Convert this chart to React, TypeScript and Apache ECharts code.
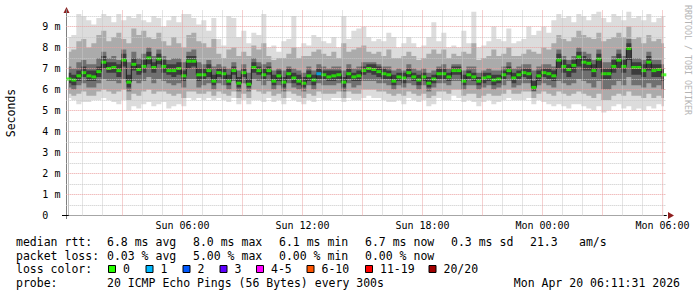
import React, { useEffect, useRef } from "react";
import * as echarts from "echarts";

// time axis in minutes after Sun 00:00 (graph ends Mon 06:11:31, 30 h span)
const X_MIN = 11.52;
const X_MAX = 1811.52;
const FIRST_SAMPLE_MIN = 19;
const STEP_MIN = 15;

const median = [
  6.5, 6.45, 6.65, 6.8, 6.65, 6.6, 6.85, 7.3, 7.0, 7.05, 6.9, 7.4, 6.35, 7.2, 6.95, 7.1, 7.5, 7.05, 7.45, 7.1, 6.9, 6.9, 7.0, 6.65, 7.35, 7.35, 6.7, 6.7, 6.9, 6.4,
  6.8, 6.75, 6.4, 6.9, 6.3, 6.8, 6.25, 7.05, 6.9, 6.7, 6.9, 6.4, 6.65, 6.35, 6.75, 6.55, 6.4, 6.3, 6.65, 6.45, 6.75, 6.7, 6.6, 6.65, 6.7, 6.35, 6.75, 6.6, 6.65, 6.9,
  7.0, 6.95, 6.85, 6.75, 6.7, 6.4, 6.6, 6.55, 6.8, 6.6, 6.45, 6.6, 6.3, 6.5, 6.75, 6.75, 6.6, 6.9, 6.9, 6.4, 6.7, 6.6, 6.4, 6.55, 6.6, 6.45, 6.5, 6.7, 6.9, 6.55,
  6.7, 6.8, 6.75, 6.1, 6.65, 6.8, 6.75, 6.65, 7.4, 7.1, 6.95, 7.15, 7.55, 7.3, 7.25, 6.9, 7.45, 6.75, 6.75, 7.1, 7.4, 7.1, 7.95, 7.05, 7.05, 6.9, 7.3, 6.9, 6.95, 6.7,
];

// pings lost (of 20) per sample
const loss = [
  0, 0, 0, 0, 0, 0, 0, 0, 0, 0, 0, 0, 0, 0, 0, 0, 0, 0, 0, 0, 0, 0, 0, 0, 0, 0, 0, 0, 0, 0,
  0, 0, 0, 0, 0, 0, 0, 0, 0, 0, 0, 0, 0, 0, 0, 0, 0, 0, 0, 0, 1, 0, 0, 0, 0, 0, 0, 0, 0, 0,
  0, 0, 0, 0, 0, 0, 0, 0, 0, 0, 0, 0, 0, 0, 0, 0, 0, 0, 0, 0, 0, 0, 0, 0, 0, 0, 0, 0, 0, 0,
  0, 0, 0, 0, 0, 0, 0, 0, 0, 0, 0, 0, 0, 0, 0, 0, 0, 0, 0, 0, 0, 0, 0, 0, 0, 0, 0, 0, 0, 0,
];

// smoke envelopes (ms), outermost to innermost
const smokeMax = [
  8.5, 8.6, 9.6, 9.5, 9.3, 9.1, 9.4, 9.6, 9.5, 9.2, 9.6, 9.3, 9.5, 9.4, 9.6, 9.3, 9.2, 9.5, 9.4, 9.0, 9.3, 9.5, 9.2, 9.6, 9.6, 9.4, 9.1, 9.3, 8.8, 9.4,
  8.4, 8.1, 9.5, 9.4, 8.5, 8.8, 8.2, 8.7, 8.6, 9.6, 8.0, 8.1, 7.8, 8.3, 8.4, 9.5, 8.0, 8.2, 8.1, 8.6, 8.5, 8.3, 8.2, 8.5, 8.0, 9.5, 8.4, 8.8, 8.9, 9.0,
  8.5, 8.3, 8.4, 8.3, 8.7, 8.5, 8.0, 8.2, 8.5, 8.2, 8.0, 8.1, 8.5, 9.2, 8.3, 8.7, 8.0, 8.1, 8.0, 8.8, 8.2, 9.7, 8.0, 8.1, 8.3, 9.0, 8.4, 8.3, 8.9, 8.2,
  8.3, 8.4, 9.0, 8.6, 8.8, 9.0, 8.7, 9.3, 9.6, 9.4, 9.5, 9.2, 9.6, 9.5, 9.3, 9.6, 9.7, 9.4, 9.2, 9.6, 9.5, 9.3, 9.7, 9.4, 9.5, 9.3, 9.6, 9.2, 9.4, 9.5,
];
const smokeHi2 = [
  7.8, 7.9, 8.3, 8.4, 8.0, 8.2, 8.6, 8.8, 8.3, 8.5, 8.7, 8.4, 8.2, 8.9, 8.6, 8.8, 8.5, 8.4, 8.7, 8.3, 8.1, 8.5, 8.2, 8.0, 8.6, 8.7, 8.3, 8.2, 8.0, 8.4,
  7.7, 7.5, 7.9, 8.0, 7.6, 7.8, 7.6, 8.1, 7.9, 8.2, 7.6, 7.4, 7.5, 7.5, 7.7, 8.0, 7.5, 7.6, 7.6, 7.8, 7.9, 7.7, 7.6, 7.8, 7.5, 8.2, 7.8, 7.9, 8.0, 8.1,
  7.8, 7.7, 7.8, 7.6, 7.9, 7.5, 7.5, 7.6, 7.8, 7.6, 7.4, 7.5, 7.7, 7.9, 7.7, 7.9, 7.5, 7.7, 7.6, 7.8, 7.7, 8.2, 7.4, 7.5, 7.6, 7.9, 7.6, 7.7, 8.0, 7.6,
  7.6, 7.7, 7.9, 7.8, 7.7, 8.0, 7.9, 8.2, 8.6, 8.4, 8.3, 8.5, 8.8, 8.6, 8.5, 8.4, 8.7, 8.3, 8.4, 8.5, 8.7, 8.5, 9.0, 8.4, 8.5, 8.2, 8.6, 8.3, 8.4, 8.2,
];
const smokeHi3 = [
  7.1, 7.0, 7.3, 7.4, 7.2, 7.2, 7.5, 7.8, 7.5, 7.6, 7.4, 7.9, 7.3, 7.8, 7.5, 7.7, 8.0, 7.6, 7.9, 7.6, 7.4, 7.5, 7.5, 7.3, 7.8, 7.9, 7.3, 7.2, 7.4, 7.1,
  7.2, 7.1, 7.0, 7.3, 6.9, 7.2, 6.8, 7.5, 7.3, 7.2, 7.3, 6.9, 7.0, 6.9, 7.1, 7.0, 6.9, 6.8, 7.1, 6.9, 7.2, 7.1, 7.0, 7.1, 7.1, 6.9, 7.2, 7.0, 7.1, 7.3,
  7.3, 7.3, 7.2, 7.1, 7.1, 6.9, 7.0, 6.9, 7.2, 7.0, 6.9, 7.0, 6.8, 6.9, 7.1, 7.2, 7.0, 7.2, 7.2, 6.9, 7.1, 7.1, 6.8, 6.9, 7.0, 6.9, 6.9, 7.1, 7.3, 7.0,
  7.1, 7.2, 7.2, 6.9, 7.1, 7.2, 7.2, 7.1, 7.9, 7.6, 7.4, 7.6, 8.0, 7.8, 7.7, 7.4, 7.9, 7.3, 7.3, 7.6, 7.9, 7.6, 8.4, 7.5, 7.5, 7.4, 7.8, 7.4, 7.4, 7.2,
];
const smokeCoreHi = [
  6.8, 6.7, 6.9, 7.1, 6.9, 6.9, 7.1, 7.6, 7.3, 7.3, 7.2, 7.7, 6.7, 7.5, 7.2, 7.4, 7.8, 7.3, 7.7, 7.4, 7.2, 7.2, 7.3, 6.9, 7.6, 7.6, 7.0, 7.0, 7.2, 6.7,
  7.0, 7.0, 6.7, 7.1, 6.6, 7.0, 6.5, 7.3, 7.1, 7.0, 7.1, 6.7, 6.9, 6.6, 7.0, 6.8, 6.7, 6.6, 6.9, 6.7, 7.0, 6.9, 6.9, 6.9, 6.9, 6.6, 7.0, 6.8, 6.9, 7.1,
  7.2, 7.2, 7.1, 7.0, 6.9, 6.7, 6.8, 6.8, 7.0, 6.8, 6.7, 6.8, 6.6, 6.7, 7.0, 7.0, 6.8, 7.1, 7.1, 6.7, 6.9, 6.8, 6.6, 6.8, 6.8, 6.7, 6.7, 6.9, 7.1, 6.8,
  6.9, 7.0, 7.0, 6.4, 6.9, 7.0, 7.0, 6.9, 7.7, 7.4, 7.2, 7.4, 7.8, 7.6, 7.5, 7.2, 7.7, 7.0, 7.0, 7.4, 7.7, 7.4, 8.2, 7.3, 7.3, 7.2, 7.6, 7.2, 7.2, 7.0,
];
const smokeCoreLo = [
  6.3, 6.2, 6.4, 6.6, 6.4, 6.4, 6.6, 7.0, 6.8, 6.8, 6.6, 7.1, 6.1, 6.9, 6.7, 6.8, 7.2, 6.8, 7.2, 6.8, 6.7, 6.6, 6.7, 6.4, 7.0, 7.1, 6.4, 6.5, 6.6, 6.2,
  6.6, 6.5, 6.2, 6.7, 6.1, 6.6, 6.1, 6.8, 6.7, 6.5, 6.7, 6.2, 6.4, 6.1, 6.5, 6.3, 6.2, 6.1, 6.4, 6.2, 6.5, 6.5, 6.4, 6.4, 6.5, 6.1, 6.5, 6.4, 6.4, 6.7,
  6.8, 6.7, 6.6, 6.5, 6.5, 6.2, 6.4, 6.3, 6.6, 6.4, 6.2, 6.4, 6.1, 6.3, 6.5, 6.5, 6.4, 6.7, 6.7, 6.2, 6.5, 6.4, 6.2, 6.3, 6.4, 6.2, 6.3, 6.5, 6.7, 6.3,
  6.5, 6.6, 6.5, 5.95, 6.4, 6.6, 6.5, 6.4, 7.0, 6.8, 6.6, 6.8, 7.1, 6.9, 6.9, 6.6, 7.0, 6.5, 6.5, 6.8, 7.0, 6.8, 7.4, 6.7, 6.7, 6.6, 6.9, 6.6, 6.6, 6.4,
];
const smokeLo3 = [
  6.1, 6.0, 6.2, 6.3, 6.1, 6.1, 6.3, 6.5, 6.4, 6.4, 6.3, 6.5, 5.9, 6.4, 6.3, 6.4, 6.6, 6.3, 6.5, 6.4, 6.3, 6.2, 6.3, 6.1, 6.5, 6.5, 6.1, 6.2, 6.3, 6.0,
  6.3, 6.2, 6.0, 6.4, 5.9, 6.3, 5.9, 6.5, 6.4, 6.2, 6.4, 6.0, 6.2, 5.9, 6.3, 6.1, 6.0, 5.9, 6.2, 6.0, 6.3, 6.2, 6.2, 6.2, 6.3, 5.9, 6.3, 6.1, 6.2, 6.4,
  6.4, 6.4, 6.3, 6.3, 6.2, 6.0, 6.2, 6.1, 6.3, 6.2, 6.0, 6.2, 5.9, 6.1, 6.3, 6.3, 6.2, 6.4, 6.4, 6.0, 6.2, 6.2, 6.0, 6.1, 6.2, 6.0, 6.1, 6.2, 6.4, 6.1,
  6.2, 6.3, 6.3, 5.9, 6.2, 6.3, 6.2, 6.1, 6.4, 6.3, 6.2, 6.3, 6.5, 6.4, 6.3, 6.1, 6.4, 6.0, 6.0, 6.2, 6.4, 6.2, 6.6, 6.2, 6.2, 6.1, 6.3, 6.1, 6.2, 6.0,
];
const smokeLo2 = [
  5.8, 5.7, 5.8, 5.9, 5.7, 5.7, 5.9, 6.0, 5.9, 5.8, 5.9, 6.0, 5.5, 5.8, 5.7, 5.9, 6.0, 5.8, 5.9, 5.9, 5.8, 5.7, 5.8, 5.6, 5.9, 5.9, 5.8, 5.8, 5.9, 5.7,
  5.9, 5.8, 5.7, 5.9, 5.6, 5.8, 5.6, 6.0, 5.9, 5.8, 5.9, 5.7, 5.8, 5.6, 5.9, 5.8, 5.7, 5.6, 5.8, 5.7, 5.9, 5.8, 5.8, 5.8, 5.9, 5.6, 5.9, 5.8, 5.8, 6.0,
  6.0, 6.0, 5.9, 5.9, 5.8, 5.7, 5.8, 5.7, 5.9, 5.8, 5.7, 5.8, 5.6, 5.7, 5.9, 5.9, 5.8, 6.0, 6.0, 5.7, 5.8, 5.8, 5.6, 5.7, 5.8, 5.7, 5.7, 5.8, 6.0, 5.8,
  5.8, 5.9, 5.9, 5.6, 5.8, 5.9, 5.8, 5.7, 5.9, 5.8, 5.7, 5.8, 5.9, 5.8, 5.7, 5.6, 5.8, 5.5, 5.5, 5.7, 5.8, 5.7, 5.9, 5.7, 5.7, 5.6, 5.8, 5.6, 5.7, 5.6,
];
const smokeMin = [
  5.6, 5.5, 5.3, 5.4, 5.4, 5.5, 5.5, 5.6, 5.5, 5.4, 5.3, 5.5, 5.0, 5.2, 5.1, 5.3, 5.4, 5.2, 5.3, 5.4, 5.1, 5.2, 5.3, 5.2, 5.6, 5.5, 5.6, 5.5, 5.6, 5.5,
  5.6, 5.5, 5.4, 5.6, 5.3, 5.5, 5.3, 5.5, 5.5, 5.4, 5.6, 5.4, 5.5, 5.3, 5.6, 5.5, 5.4, 5.3, 5.5, 5.4, 5.6, 5.5, 5.5, 5.6, 5.6, 5.4, 5.6, 5.5, 5.5, 5.6,
  5.7, 5.6, 5.6, 5.5, 5.4, 5.4, 5.5, 5.3, 5.6, 5.5, 5.4, 5.5, 5.2, 5.3, 5.6, 5.5, 5.5, 5.7, 5.6, 5.4, 5.5, 5.4, 5.2, 5.4, 5.5, 5.3, 5.4, 5.5, 5.6, 5.5,
  5.5, 5.5, 5.6, 5.3, 5.5, 5.4, 5.3, 5.2, 5.3, 5.2, 5.1, 5.3, 5.3, 5.2, 5.1, 5.0, 5.2, 4.9, 5.0, 5.2, 5.3, 5.1, 5.2, 5.0, 5.1, 5.0, 5.2, 5.1, 5.3, 5.2,
];

const xTickValues = [360, 720, 1080, 1440, 1800];
const xTickLabels = ["Sun 06:00", "Sun 12:00", "Sun 18:00", "Mon 00:00", "Mon 06:00"];
const xMinorHours = [1, 2, 4, 5, 7, 8, 10, 11, 13, 14, 16, 17, 19, 20, 22, 23, 25, 26, 28, 29];
const xMajorHours = [3, 6, 9, 12, 15, 18, 21, 24, 27, 30];
const yLabelValues = [0, 1, 2, 3, 4, 5, 6, 7, 8, 9];
const yMajorTicks = [1, 2, 3, 4, 5, 6, 7, 8, 9];
const yMinorTicks = [0.5, 1.5, 2.5, 3.5, 4.5, 5.5, 6.5, 7.5, 8.5, 9.5];

const lossLabels = ["0", "1", "2", "3", "4-5", "6-10", "11-19", "20/20"];
const lossColors = ["#26ff00", "#00b8ff", "#0059ff", "#5e00ff", "#ff00ff", "#ff5500", "#ff0000", "#a10000"];
const lossUpper = [0, 1, 2, 3, 5, 10, 19, 20];

const statRows = [
  ["median rtt:", "6.8 ms avg", "8.0 ms max", "6.1 ms min", "6.7 ms now", "0.3 ms sd", "21.3", "am/s"],
  ["packet loss:", "0.03 % avg", "5.00 % max", "0.00 % min", "0.00 % now"],
];
const lossRowTitle = "loss color:";
const probeTitle = "probe:";
const probeText = "20 ICMP Echo Pings (56 Bytes) every 300s";
const stampText = "Mon Apr 20 06:11:31 2026";
const yAxisTitle = "Seconds";
const watermark = "RRDTOOL / TOBI OETIKER";

const MONO = "'DejaVu Sans Mono', 'Liberation Mono', monospace";

function lossColor(n: number) {
  for (let k = 0; k < lossUpper.length; k++) if (n <= lossUpper[k]) return lossColors[k];
  return lossColors[lossColors.length - 1];
}

function buildOption() {
  const xs = median.map((_, i) => FIRST_SAMPLE_MIN + i * STEP_MIN);
  const pts = (a: number[]) => a.map((v, i) => [xs[i], v]);

  // layered filled areas from the axis: each later layer paints over the previous one
  const layer = (name: string, data: number[], color: string) => ({
    type: "line",
    name,
    data: pts(data),
    step: "middle",
    symbol: "none",
    silent: true,
    z: 1,
    lineStyle: { opacity: 0, width: 0 },
    areaStyle: { color, opacity: 1 },
  });

  const LIGHT = "#dcdcdc";
  const MID = "#ababab";
  const DARK = "#707070";
  const CORE = "#3c3c3c";

  const minorStyle = { color: "#c8c8c8", type: [1, 1], width: 1 };
  const majorStyle = { color: "#eba0a0", type: [1, 1], width: 1 };

  const gridLines: any[] = [
    ...yMinorTicks.map((v) => ({ yAxis: v, lineStyle: minorStyle })),
    ...xMinorHours.map((h) => ({ xAxis: h * 60, lineStyle: minorStyle })),
    ...yMajorTicks.map((v) => ({ yAxis: v, lineStyle: majorStyle })),
    ...xMajorHours.map((h) => ({ xAxis: h * 60, lineStyle: majorStyle })),
  ];

  // legend graphics
  const g: any[] = [];
  const rowY = [242, 255.5, 269, 283];
  const colX = [16, 107, 193, 279, 365, 451, 530, 579];
  const txt = (x: number, y: number, text: string, extra: any = {}) => ({
    type: "text",
    x,
    y,
    silent: true,
    style: {
      text,
      fill: "#000",
      font: `11.5px ${MONO}`,
      verticalAlign: "middle",
      align: "left",
      ...extra,
    },
  });
  statRows.forEach((row, r) => row.forEach((t, c) => g.push(txt(colX[c], rowY[r], t))));
  g.push(txt(16, rowY[2], lossRowTitle));
  const boxX = [108, 145.5, 182.5, 219.5, 256, 306.5, 365, 428.5];
  lossLabels.forEach((lab, k) => {
    g.push({
      type: "rect",
      silent: true,
      shape: { x: boxX[k] + 0.5, y: 265.5, width: 7, height: 7 },
      style: { fill: lossColors[k], stroke: "#000", lineWidth: 1 },
    });
    g.push(txt(boxX[k] + 15, rowY[2], lab));
  });
  g.push(txt(16, rowY[3], probeTitle));
  g.push(txt(107, rowY[3], probeText));
  g.push(txt(680, rowY[3], stampText, { align: "right" }));

  g.push({
    type: "text",
    x: 11,
    y: 113,
    rotation: Math.PI / 2,
    silent: true,
    style: { text: yAxisTitle, fill: "#000", font: `11.5px ${MONO}`, align: "center", verticalAlign: "middle" },
  });
  g.push({
    type: "text",
    x: 688,
    y: 60,
    rotation: -Math.PI / 2,
    silent: true,
    style: { text: watermark, fill: "#b4b4b4", font: `8.3px ${MONO}`, align: "center", verticalAlign: "middle" },
  });
  // axis arrows and small axis extensions
  g.push({ type: "line", silent: true, shape: { x1: 62, y1: 215.5, x2: 66, y2: 215.5 }, style: { stroke: "#000", lineWidth: 1 } });
  g.push({ type: "line", silent: true, shape: { x1: 66.5, y1: 216, x2: 66.5, y2: 219 }, style: { stroke: "#808080", lineWidth: 1 } });
  g.push({ type: "polygon", silent: true, shape: { points: [[63.5, 13], [69.5, 13], [66.5, 7]] }, style: { fill: "#8f1f1f" } });
  g.push({ type: "polygon", silent: true, shape: { points: [[668, 212], [668, 219], [674, 215.5]] }, style: { fill: "#8f1f1f" } });

  return {
    animation: false,
    backgroundColor: "#ffffff",
    // 20 px per hour, 21 px per ms; grid lines land on half pixels
    grid: { left: 66.34, top: 9.7, width: 600, height: 205.8, containLabel: false },
    xAxis: {
      type: "value",
      min: X_MIN,
      max: X_MAX,
      axisLine: { show: true, onZero: false, lineStyle: { color: "#000", width: 1 } },
      axisTick: { show: false },
      splitLine: { show: false },
      axisLabel: {
        customValues: xTickValues,
        formatter: (v: number) => {
          const k = xTickValues.indexOf(Math.round(v));
          return k >= 0 ? xTickLabels[k] : "";
        },
        fontFamily: MONO,
        fontSize: 10,
        color: "#000",
        margin: 5,
      },
    },
    yAxis: {
      type: "value",
      min: 0,
      max: 9.8,
      axisLine: { show: true, onZero: false, lineStyle: { color: "#808080", width: 1 } },
      axisTick: { show: false },
      splitLine: { show: false },
      axisLabel: {
        customValues: yLabelValues,
        formatter: (v: number) => (v === 0 ? "0" : `${v} m`),
        align: "left",
        margin: 24,
        fontFamily: MONO,
        fontSize: 10,
        color: "#000",
      },
    },
    series: [
      layer("max", smokeMax, LIGHT),
      layer("hi2", smokeHi2, MID),
      layer("hi3", smokeHi3, DARK),
      layer("coreHi", smokeCoreHi, CORE),
      layer("coreLo", smokeCoreLo, DARK),
      layer("lo3", smokeLo3, MID),
      layer("lo2", smokeLo2, LIGHT),
      layer("min", smokeMin, "#ffffff"),
      {
        type: "line",
        name: "grid",
        data: pts(median),
        symbol: "none",
        silent: true,
        z: 2,
        lineStyle: { opacity: 0 },
        markLine: {
          silent: true,
          symbol: ["none", "none"],
          label: { show: false },
          animation: false,
          data: gridLines,
        },
      },
      {
        type: "line",
        name: "median",
        data: pts(median),
        step: "middle",
        symbol: "none",
        silent: true,
        z: 3,
        lineStyle: { color: "#202020", width: 1 },
      },
      {
        type: "scatter",
        name: "median loss",
        silent: true,
        z: 4,
        symbol: "rect",
        symbolSize: [5, 3],
        data: median.map((v, i) => ({ value: [xs[i], v], itemStyle: { color: lossColor(loss[i]) } })),
      },
    ],
    graphic: g,
  };
}

export default function App() {
  const ref = useRef<HTMLDivElement>(null);
  useEffect(() => {
    if (!ref.current) return;
    const chart = echarts.init(ref.current, null, { renderer: "svg", width: 697, height: 297 });
    chart.setOption(buildOption() as any);
    return () => chart.dispose();
  }, []);
  return (
    <div
      ref={ref}
      style={{ position: "fixed", left: 0, top: 0, width: 697, height: 297, background: "#fff" }}
    />
  );
}
